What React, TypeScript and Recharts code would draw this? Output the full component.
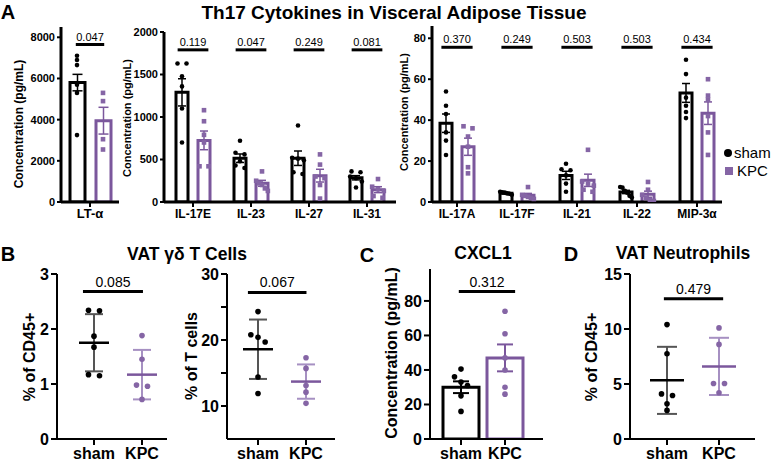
import React from 'react';
import { ComposedChart, Bar, Scatter, XAxis, YAxis, ErrorBar, ReferenceLine, Cell } from 'recharts';

const W = 777;
const H = 468;
const FONT = '"Liberation Sans", Arial, Helvetica, sans-serif';
const BLACK = '#000000';
const GREY = '#555555';
const PURPLE = '#7b579c';
const PURPLE_DOT = '#8565a5';
const PURPLE_LIGHT = '#a690c2';

// ---- A: Th17 cytokines, mean ± SEM with single mice ----
const ltCats = ['LT-α'];
const ltShamMean = [5800];
const ltShamSem = [400];
const ltKpcMean = [3950];
const ltKpcSem = [650];
const ltShamPts = [[7100, 6900, 6650, 5700, 5300, 3250]];
const ltKpcPts = [[5300, 4900, 3050, 2550]];
const ltP = ['0.047'];

const ilCats = ['IL-17E', 'IL-23', 'IL-27', 'IL-31'];
const ilShamMean = [1290, 515, 515, 285];
const ilShamSem = [160, 50, 85, 25];
const ilKpcMean = [725, 220, 310, 145];
const ilKpcSem = [110, 35, 75, 35];
const ilShamPts = [
  [1630, 1630, 1480, 1360, 1100, 700],
  [720, 580, 560, 480, 430, 400],
  [900, 520, 510, 490, 350, 330],
  [360, 350, 300, 280, 240, 170],
];
const ilKpcPts = [
  [1080, 950, 790, 700, 420, 420],
  [360, 250, 220, 200, 160, 130],
  [560, 440, 300, 280, 200, 40],
  [270, 180, 150, 130, 70, 50],
];
const ilP = ['0.119', '0.047', '0.249', '0.081'];

const lowCats = ['IL-17A', 'IL-17F', 'IL-21', 'IL-22', 'MIP-3α'];
const lowShamMean = [38.5, 4.3, 13.0, 4.9, 53.3];
const lowShamSem = [4.5, 0.3, 2.0, 0.8, 4.6];
const lowKpcMean = [27.0, 3.3, 10.6, 3.8, 43.4];
const lowKpcSem = [4.2, 0.9, 3.0, 1.5, 5.5];
const lowShamPts = [
  [54, 47, 43, 34, 30, 23],
  [5.0, 4.8, 4.6, 4.2, 4.0, 3.5],
  [18.7, 16, 15.5, 13, 9, 5],
  [7.3, 7.0, 5.5, 4.5, 3.0, 2.2],
  [69.5, 62.5, 51, 47, 44, 41],
];
const lowKpcPts = [
  [37, 36, 32, 27, 17, 14],
  [7.3, 3.5, 3.0, 2.5, 2.0, 1.5],
  [25.5, 10, 9, 8, 6, 5],
  [9.8, 6.0, 3.5, 2.0, 1.0, 0.5],
  [60, 52, 50, 42, 34, 23],
];
const lowP = ['0.370', '0.249', '0.503', '0.503', '0.434'];

// ---- B-D ----
const groups = ['sham', 'KPC'];

const gdCd45Sham = [2.34, 2.33, 1.87, 1.67, 1.17, 1.15];
const gdCd45Kpc = [1.88, 1.45, 0.98, 0.96, 0.72];
const gdCd45Mean = [1.75, 1.17];
const gdCd45Sd = [0.52, 0.45];
const gdCd45P = '0.085';

const gdTSham = [24.3, 20.8, 20.4, 19.7, 14.4, 11.9];
const gdTKpc = [17.3, 15.7, 13.1, 12.1, 10.4];
const gdTMean = [18.6, 13.7];
const gdTSd = [4.5, 2.6];
const gdTP = '0.067';

const cxclSham = [40.5, 36, 33, 31, 25, 16];
const cxclKpc = [74, 61, 47, 40, 30, 26];
const cxclMean = [30, 47];
const cxclSem = [3.4, 7.8];
const cxclP = '0.312';

const neuSham = [10.4, 7.75, 4.1, 3.95, 3.2, 2.6];
const neuKpc = [10.1, 8.6, 5.05, 5.05, 4.2];
const neuMean = [5.33, 6.6];
const neuSd = [3.05, 2.6];
const neuP = '0.479';

// spread points with close values sideways (simple beeswarm), total spread kept narrow
function swarm(vals: number[], thr: number, maxSpan = 1.3): number[] {
  const order = vals.map((_, i) => i).sort((a, b) => vals[b] - vals[a]);
  const out = vals.map(() => 0);
  let grp: number[] = [];
  const flush = () => {
    const k = grp.length;
    const f = k > 1 ? Math.min(1, maxSpan / (k - 1)) : 1;
    grp.forEach((idx, j) => { out[idx] = (j - (k - 1) / 2) * f; });
    grp = [];
  };
  order.forEach((k) => {
    if (grp.length && vals[grp[grp.length - 1]] - vals[k] > thr) flush();
    grp.push(k);
  });
  flush();
  return out;
}

const spread = (sets: number[][], shift: number, slot: number, thr: number) =>
  sets.flatMap((vals, i) => {
    const off = swarm(vals, thr);
    return vals.map((v, k) => ({ x: i + shift + off[k] * slot, y: v }));
  });

const dot = (r: number, fill: string) => (p: any) => <circle cx={p.cx} cy={p.cy} r={r} fill={fill} />;
const square = (s: number, fill: string) => (p: any) => (
  <rect x={p.cx - s / 2} y={p.cy - s / 2} width={s} height={s} fill={fill} />
);
const hline = (half: number, color: string) => (p: any) => (
  <line x1={p.cx - half} x2={p.cx + half} y1={p.cy} y2={p.cy} stroke={color} strokeWidth={2.5} />
);
const nothing = () => <g />;

const tickFont = (size: number) => ({ fill: BLACK, fontSize: size, fontWeight: 700, fontFamily: FONT });

type CytoCfg = {
  x0: number; x1: number; yTop: number; yBot: number; yMax: number; yTicks: number[];
  pad: number; numDomain: [number, number]; barSize: number; barGap: number;
  shift: number; slot: number; bracketY: number; bracketHalf: number; cap: number;
  catFont: number;
};

const ltCfg: CytoCfg = {
  x0: 61, x1: 119, yTop: 27, yBot: 202, yMax: 8500, yTicks: [0, 2000, 4000, 6000, 8000],
  pad: 0, numDomain: [-0.5, 0.5], barSize: 15, barGap: 11,
  shift: 13 / 58, slot: 9 / 58, bracketY: 7650, bracketHalf: 0.245, cap: 5, catFont: 13,
};
const ilCfg: CytoCfg = {
  x0: 164, x1: 396, yTop: 32, yBot: 202, yMax: 2000, yTicks: [0, 500, 1000, 1500, 2000],
  pad: 0, numDomain: [-0.5, 3.5], barSize: 12, barGap: 10,
  shift: 11 / 58, slot: 9 / 58, bracketY: 1790, bracketHalf: 0.265, cap: 4, catFont: 12,
};
const lowCfg: CytoCfg = {
  x0: 432, x1: 722, yTop: 26, yBot: 202, yMax: 86, yTicks: [0, 20, 40, 60, 80],
  pad: -5, numDomain: [-25 / 60, 4 + 25 / 60], barSize: 12, barGap: 10,
  shift: 11 / 60, slot: 9 / 60, bracketY: 75.6, bracketHalf: 0.26, cap: 4, catFont: 12,
};

function CytokinePanel(props: {
  cfg: CytoCfg; cats: string[]; shamMean: number[]; shamSem: number[]; kpcMean: number[]; kpcSem: number[];
  shamPts: number[][]; kpcPts: number[][]; pvals: string[];
}) {
  const { cfg, cats } = props;
  const rows = cats.map((name, i) => ({
    name, sham: props.shamMean[i], shamSem: props.shamSem[i], kpc: props.kpcMean[i], kpcSem: props.kpcSem[i],
  }));
  const thr = (4 * cfg.yMax) / (cfg.yBot - cfg.yTop);
  const shamDots = spread(props.shamPts, -cfg.shift, cfg.slot, thr);
  const kpcDots = spread(props.kpcPts, cfg.shift, cfg.slot, thr);
  return (
    <div style={{ position: 'absolute', left: 0, top: 0 }}>
      <ComposedChart
        width={W}
        height={H}
        data={rows}
        barGap={cfg.barGap}
        margin={{ top: cfg.yTop, right: W - cfg.x1, bottom: H - cfg.yBot - 30, left: cfg.x0 - 40 }}
      >
        <XAxis
          xAxisId="cat" dataKey="name" type="category" interval={0} height={30}
          padding={{ left: cfg.pad, right: cfg.pad }}
          axisLine={{ stroke: BLACK, strokeWidth: 3 }} tickLine={{ stroke: BLACK, strokeWidth: 2 }}
          tickSize={5} tickMargin={2} tick={tickFont(cfg.catFont)}
        />
        <XAxis xAxisId="num" dataKey="x" type="number" domain={cfg.numDomain} allowDataOverflow hide />
        <YAxis
          width={40} type="number" domain={[0, cfg.yMax]} ticks={cfg.yTicks} allowDataOverflow
          axisLine={{ stroke: BLACK, strokeWidth: 3 }} tickLine={{ stroke: BLACK, strokeWidth: 2 }}
          tickSize={4} tickMargin={2} tick={tickFont(11)}
        />
        <Bar xAxisId="cat" dataKey="sham" barSize={cfg.barSize} fill="#fff" stroke={BLACK} strokeWidth={3} isAnimationActive={false}>
          <ErrorBar dataKey="shamSem" direction="y" width={cfg.cap} stroke={BLACK} strokeWidth={1.5} />
        </Bar>
        <Bar xAxisId="cat" dataKey="kpc" barSize={cfg.barSize} fill="#fff" stroke={PURPLE} strokeWidth={3} isAnimationActive={false}>
          <ErrorBar dataKey="kpcSem" direction="y" width={cfg.cap} stroke={PURPLE} strokeWidth={1.5} />
        </Bar>
        <Scatter xAxisId="num" data={shamDots} dataKey="y" shape={dot(2.3, BLACK)} isAnimationActive={false} />
        <Scatter xAxisId="num" data={kpcDots} dataKey="y" shape={square(4.6, PURPLE_DOT)} isAnimationActive={false} />
        {props.pvals.map((p, i) => (
          <ReferenceLine
            key={cats[i]}
            xAxisId="num"
            ifOverflow="visible"
            segment={[{ x: i - cfg.bracketHalf, y: cfg.bracketY }, { x: i + cfg.bracketHalf, y: cfg.bracketY }]}
            stroke={BLACK}
            strokeWidth={3}
            label={{ value: p, position: 'top', offset: 4, fontSize: 11, fill: BLACK, fontFamily: FONT }}
          />
        ))}
      </ComposedChart>
    </div>
  );
}

type DotCfg = {
  x0: number; x1: number; yTop: number; yBot: number; yMin: number; yMax: number;
  yTicks: number[]; yLabeled: number[]; numDomain: [number, number];
  bracket: [number, number, number]; meanHalf: number; cap: number; slot: number;
};

const gdCd45Cfg: DotCfg = {
  x0: 57, x1: 167, yTop: 274, yBot: 439, yMin: 0, yMax: 3, yTicks: [0, 1, 2, 3], yLabeled: [0, 1, 2, 3],
  numDomain: [-37 / 48, 1 + 25 / 48], bracket: [-0.23, 1.02, 2.68], meanHalf: 15, cap: 9, slot: 11 / 48,
};
const gdTCfg: DotCfg = {
  x0: 227, x1: 335, yTop: 274, yBot: 439, yMin: 5, yMax: 30, yTicks: [10, 15, 20, 25, 30], yLabeled: [10, 20, 30],
  numDomain: [-31 / 48, 1 + 29 / 48], bracket: [-0.21, 1.01, 27.2], meanHalf: 15, cap: 9, slot: 11 / 48,
};
const neuCfg: DotCfg = {
  x0: 630, x1: 755, yTop: 274, yBot: 439, yMin: 0, yMax: 15, yTicks: [0, 5, 10, 15], yLabeled: [0, 5, 10, 15],
  numDomain: [-37 / 52, 1 + 36 / 52], bracket: [-0.06, 1.08, 12.75], meanHalf: 17, cap: 10, slot: 11 / 52,
};

function GroupDotPanel(props: { cfg: DotCfg; sham: number[]; kpc: number[]; mean: number[]; sd: number[]; p: string }) {
  const { cfg } = props;
  const thr = (6 * (cfg.yMax - cfg.yMin)) / (cfg.yBot - cfg.yTop);
  const dots = spread([props.sham, props.kpc], 0, cfg.slot, thr);
  const shamDots = dots.slice(0, props.sham.length);
  const kpcDots = dots.slice(props.sham.length);
  return (
    <div style={{ position: 'absolute', left: 0, top: 0 }}>
      <ComposedChart
        width={W}
        height={H}
        margin={{ top: cfg.yTop, right: W - cfg.x1, bottom: H - cfg.yBot - 30, left: cfg.x0 - 40 }}
      >
        <XAxis
          xAxisId="num" dataKey="x" type="number" domain={cfg.numDomain} allowDataOverflow ticks={[0, 1]}
          tickFormatter={(v: number) => groups[Math.round(v)] ?? ''} interval={0} height={30}
          axisLine={{ stroke: BLACK, strokeWidth: 2 }} tickLine={{ stroke: BLACK, strokeWidth: 2 }}
          tickSize={6} tickMargin={3} tick={tickFont(16)}
        />
        <YAxis
          width={40} type="number" domain={[cfg.yMin, cfg.yMax]} ticks={cfg.yTicks} allowDataOverflow
          tickFormatter={(v: number) => (cfg.yLabeled.includes(v) ? String(v) : '')}
          axisLine={{ stroke: BLACK, strokeWidth: 2 }} tickLine={{ stroke: BLACK, strokeWidth: 2 }}
          tickSize={6} tickMargin={2} tick={tickFont(16)}
        />
        <Scatter xAxisId="num" data={[{ x: 0, y: props.mean[0], e: props.sd[0] }]} dataKey="y" shape={hline(cfg.meanHalf, BLACK)} isAnimationActive={false}>
          <ErrorBar dataKey="e" direction="y" width={cfg.cap} stroke={GREY} strokeWidth={2} />
        </Scatter>
        <Scatter xAxisId="num" data={[{ x: 1, y: props.mean[1], e: props.sd[1] }]} dataKey="y" shape={hline(cfg.meanHalf, PURPLE)} isAnimationActive={false}>
          <ErrorBar dataKey="e" direction="y" width={cfg.cap} stroke={PURPLE_LIGHT} strokeWidth={2} />
        </Scatter>
        <Scatter xAxisId="num" data={shamDots} dataKey="y" shape={dot(2.8, BLACK)} isAnimationActive={false} />
        <Scatter xAxisId="num" data={kpcDots} dataKey="y" shape={dot(2.8, PURPLE_DOT)} isAnimationActive={false} />
        <ReferenceLine
          xAxisId="num"
          ifOverflow="visible"
          segment={[{ x: cfg.bracket[0], y: cfg.bracket[2] }, { x: cfg.bracket[1], y: cfg.bracket[2] }]}
          stroke={BLACK}
          strokeWidth={3}
          label={{ value: props.p, position: 'top', offset: 5, fontSize: 14, fill: BLACK, fontFamily: FONT }}
        />
      </ComposedChart>
    </div>
  );
}

function CxclPanel() {
  const x0 = 430;
  const x1 = 543;
  const yTop = 269;
  const yBot = 439;
  const yMax = 98.5;
  const rows = groups.map((name, i) => ({ name, v: cxclMean[i] }));
  const thr = (6 * yMax) / (yBot - yTop);
  const dots = spread([cxclSham, cxclKpc], 0, 10 / 44, thr);
  return (
    <div style={{ position: 'absolute', left: 0, top: 0 }}>
      <ComposedChart
        width={W}
        height={H}
        data={rows}
        margin={{ top: yTop, right: W - x1, bottom: H - yBot - 30, left: x0 - 40 }}
      >
        <XAxis
          xAxisId="cat" dataKey="name" type="category" interval={0} height={30}
          padding={{ left: 9, right: 16 }}
          axisLine={{ stroke: BLACK, strokeWidth: 2 }} tickLine={{ stroke: BLACK, strokeWidth: 2 }}
          tickSize={6} tickMargin={3} tick={tickFont(16)}
        />
        <XAxis xAxisId="num" dataKey="x" type="number" domain={[-31 / 44, 1 + 38 / 44]} allowDataOverflow hide />
        <YAxis
          width={40} type="number" domain={[0, yMax]} ticks={[0, 20, 40, 60, 80]} allowDataOverflow
          axisLine={{ stroke: BLACK, strokeWidth: 2 }} tickLine={{ stroke: BLACK, strokeWidth: 2 }}
          tickSize={6} tickMargin={2} tick={tickFont(16)}
        />
        <Bar xAxisId="cat" dataKey="v" barSize={36} fill="#fff" strokeWidth={3} isAnimationActive={false}>
          {rows.map((r, i) => (
            <Cell key={r.name} stroke={i ? PURPLE : BLACK} />
          ))}
        </Bar>
        <Scatter xAxisId="num" data={[{ x: 0, y: cxclMean[0], e: cxclSem[0] }]} dataKey="y" shape={nothing} isAnimationActive={false}>
          <ErrorBar dataKey="e" direction="y" width={8} stroke={BLACK} strokeWidth={2} />
        </Scatter>
        <Scatter xAxisId="num" data={[{ x: 1, y: cxclMean[1], e: cxclSem[1] }]} dataKey="y" shape={nothing} isAnimationActive={false}>
          <ErrorBar dataKey="e" direction="y" width={8} stroke={PURPLE} strokeWidth={2} />
        </Scatter>
        <Scatter xAxisId="num" data={dots.slice(0, cxclSham.length)} dataKey="y" shape={dot(2.8, BLACK)} isAnimationActive={false} />
        <Scatter xAxisId="num" data={dots.slice(cxclSham.length)} dataKey="y" shape={dot(2.8, PURPLE_DOT)} isAnimationActive={false} />
        <ReferenceLine
          xAxisId="num"
          ifOverflow="visible"
          segment={[{ x: -0.05, y: 85.4 }, { x: 1.23, y: 85.4 }]}
          stroke={BLACK}
          strokeWidth={3}
          label={{ value: cxclP, position: 'top', offset: 5, fontSize: 14, fill: BLACK, fontFamily: FONT }}
        />
      </ComposedChart>
    </div>
  );
}

function Txt(props: { x: number; y: number; size: number; bold?: boolean; rotate?: boolean; children: React.ReactNode }) {
  return (
    <div
      style={{
        position: 'absolute', left: props.x, top: props.y, whiteSpace: 'nowrap', lineHeight: 1,
        fontFamily: FONT, fontSize: props.size, fontWeight: props.bold ? 700 : 400, color: BLACK,
        transform: `translate(-50%, -50%)${props.rotate ? ' rotate(-90deg)' : ''}`,
      }}
    >
      {props.children}
    </div>
  );
}

export default function App() {
  return (
    <div style={{ position: 'absolute', left: 0, top: 0, width: W, height: H, background: '#fff', overflow: 'hidden' }}>
      <CytokinePanel cfg={ltCfg} cats={ltCats} shamMean={ltShamMean} shamSem={ltShamSem} kpcMean={ltKpcMean}
        kpcSem={ltKpcSem} shamPts={ltShamPts} kpcPts={ltKpcPts} pvals={ltP} />
      <CytokinePanel cfg={ilCfg} cats={ilCats} shamMean={ilShamMean} shamSem={ilShamSem} kpcMean={ilKpcMean}
        kpcSem={ilKpcSem} shamPts={ilShamPts} kpcPts={ilKpcPts} pvals={ilP} />
      <CytokinePanel cfg={lowCfg} cats={lowCats} shamMean={lowShamMean} shamSem={lowShamSem} kpcMean={lowKpcMean}
        kpcSem={lowKpcSem} shamPts={lowShamPts} kpcPts={lowKpcPts} pvals={lowP} />
      <GroupDotPanel cfg={gdCd45Cfg} sham={gdCd45Sham} kpc={gdCd45Kpc} mean={gdCd45Mean} sd={gdCd45Sd} p={gdCd45P} />
      <GroupDotPanel cfg={gdTCfg} sham={gdTSham} kpc={gdTKpc} mean={gdTMean} sd={gdTSd} p={gdTP} />
      <CxclPanel />
      <GroupDotPanel cfg={neuCfg} sham={neuSham} kpc={neuKpc} mean={neuMean} sd={neuSd} p={neuP} />

      {/* panel letters and titles */}
      <Txt x={8} y={12} size={20} bold>A</Txt>
      <Txt x={394} y={12} size={19} bold>Th17 Cytokines in Visceral Adipose Tissue</Txt>
      <Txt x={8} y={254} size={20} bold>B</Txt>
      <Txt x={187} y={255} size={17.5} bold>VAT γδ T Cells</Txt>
      <Txt x={367} y={255} size={20} bold>C</Txt>
      <Txt x={483} y={254} size={17.5} bold>CXCL1</Txt>
      <Txt x={571} y={254} size={20} bold>D</Txt>
      <Txt x={683} y={254} size={17.5} bold>VAT Neutrophils</Txt>

      {/* axis titles */}
      <Txt x={19} y={124} size={12} bold rotate>Concentration (pg/mL)</Txt>
      <Txt x={127} y={118} size={11} bold rotate>Concentration (pg/mL)</Txt>
      <Txt x={404} y={112} size={11} bold rotate>Concentration (pg/mL)</Txt>
      <Txt x={30} y={357} size={16} bold rotate>% of CD45+</Txt>
      <Txt x={192} y={356} size={16} bold rotate>% of T cells</Txt>
      <Txt x={392} y={353} size={16} bold rotate>Concentration (pg/mL)</Txt>
      <Txt x={592} y={357} size={16} bold rotate>% of CD45+</Txt>

      {/* legend */}
      <div style={{ position: 'absolute', left: 724, top: 149, width: 8, height: 8, borderRadius: 4, background: BLACK }} />
      <div style={{ position: 'absolute', left: 734, top: 145, fontFamily: FONT, fontSize: 15, lineHeight: 1 }}>sham</div>
      <div style={{ position: 'absolute', left: 725, top: 167, width: 8, height: 8, background: PURPLE_DOT }} />
      <div style={{ position: 'absolute', left: 737, top: 163, fontFamily: FONT, fontSize: 15, lineHeight: 1 }}>KPC</div>
    </div>
  );
}
